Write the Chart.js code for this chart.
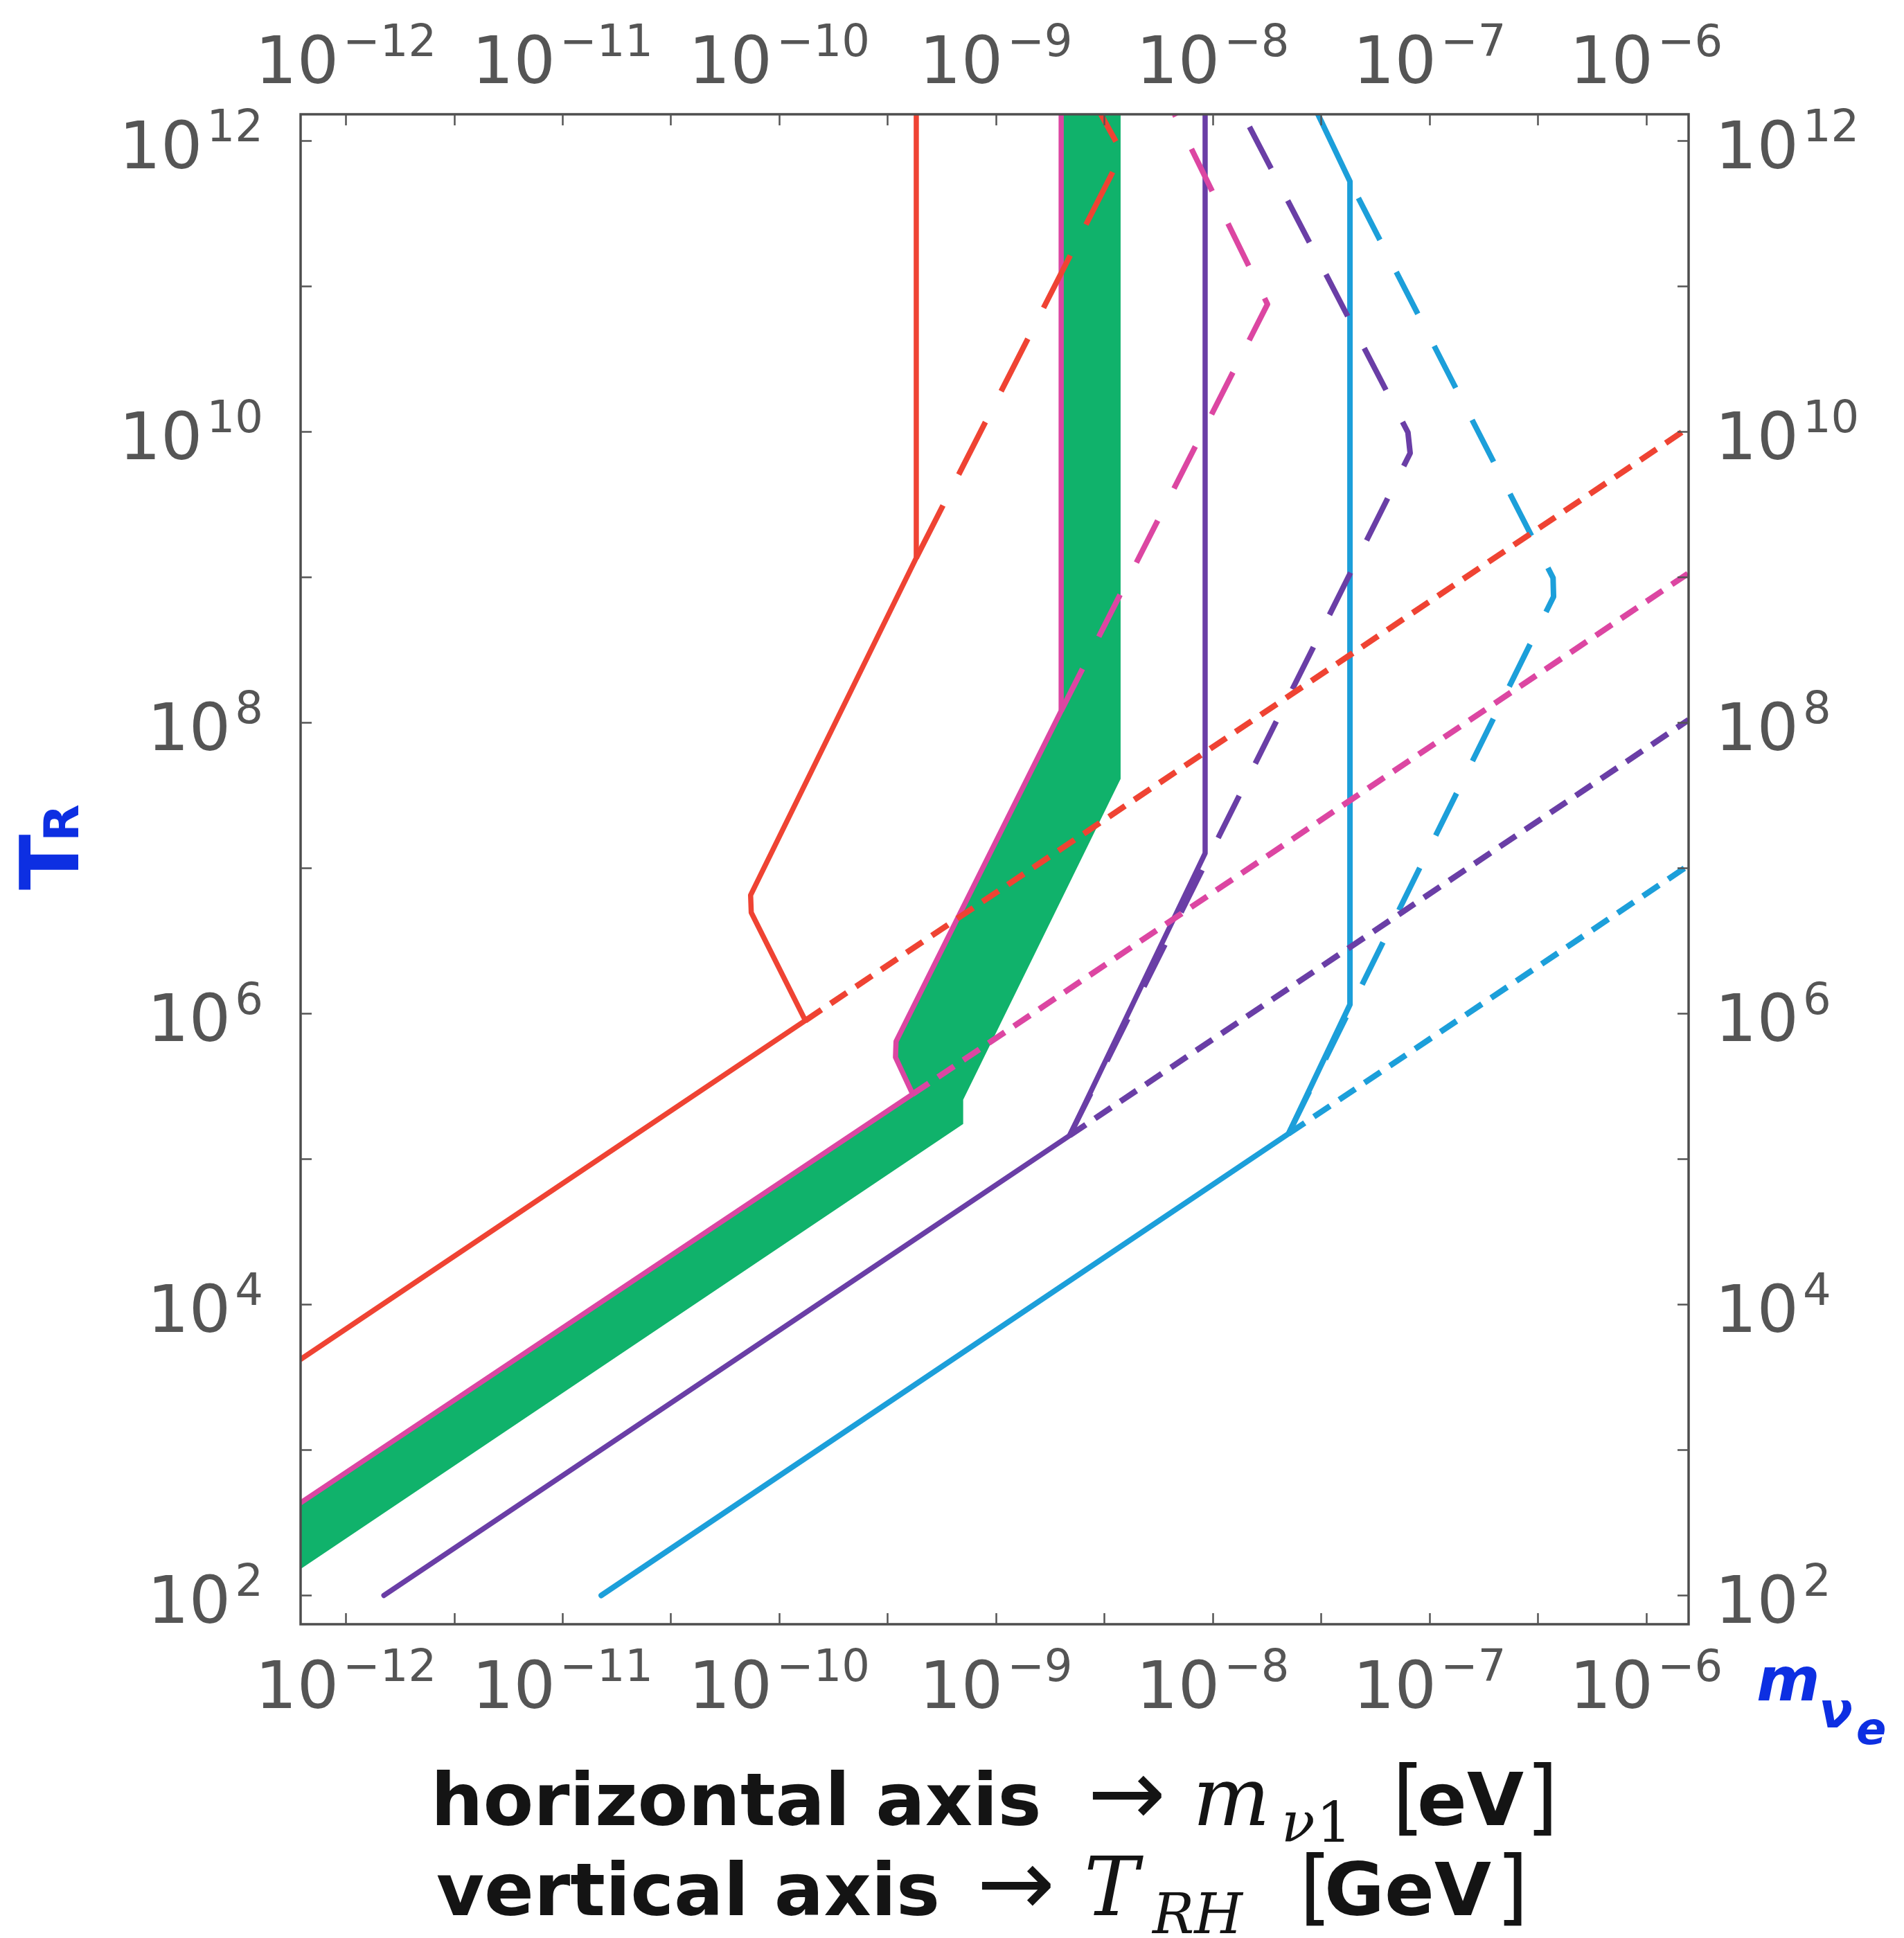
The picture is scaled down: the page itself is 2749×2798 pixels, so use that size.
<!DOCTYPE html>
<html>
<head>
<meta charset="utf-8">
<script src="https://cdn.jsdelivr.net/npm/chart.js@4.4.1/dist/chart.umd.min.js"></script>
<style>
html,body{margin:0;padding:0;background:#ffffff;}
canvas{display:block;}
</style>
</head>
<body>
<canvas id="c" width="2749" height="2798"></canvas>
<script>
// ---- axis ranges (m_nu1 in eV, T_RH in GeV) ----
const xMin = 6.19e-13, xMax = 1.57e-6;
const yMin = 63.4,     yMax = 1.51e12;

// ---- tick marks and labels ----
const xTickMarks  = [1e-12, 3.16e-12, 1e-11, 3.16e-11, 1e-10, 3.16e-10, 1e-9, 3.16e-9, 1e-8, 3.16e-8, 1e-7, 3.16e-7, 1e-6];
const xLabelVals  = [1e-12, 1e-11, 1e-10, 1e-9, 1e-8, 1e-7, 1e-6];
const xLabelExps  = ['\u221212', '\u221211', '\u221210', '\u22129', '\u22128', '\u22127', '\u22126'];
const yTickMarks  = [1e2, 1e3, 1e4, 1e5, 1e6, 1e7, 1e8, 1e9, 1e10, 1e11, 1e12];
const yLabelVals  = [1e2, 1e4, 1e6, 1e8, 1e10, 1e12];
const yLabelExps  = ['2', '4', '6', '8', '10', '12'];

// ---- curves: [m_nu1, T_RH] ----
const redSolid      = [[6.19e-13, 4.19e3], [1.32e-10, 8.93e5], [7.43e-11, 4.93e6], [7.38e-11, 6.49e6], [4.29e-10, 1.35e9], [4.29e-10, 1.51e12]];
const redShort      = [[1.32e-10, 8.93e5], [1.57e-6, 1.06e10]];
const redLong       = [[4.29e-10, 1.35e9], [3.83e-9, 8.17e11], [3.05e-9, 1.51e12]];

const magentaSolid  = [[6.19e-13, 4.33e2], [4.13e-10, 2.79e5], [3.44e-10, 4.99e5], [3.46e-10, 6.41e5], [2.00e-9, 1.20e8], [2.00e-9, 1.51e12]];
const magentaShort  = [[4.13e-10, 2.79e5], [1.57e-6, 1.06e9]];
const magentaLong   = [[2.00e-9, 1.20e8], [1.79e-8, 7.48e10], [6.67e-9, 1.51e12]];

const purpleSolid   = [[1.50e-12, 1e2], [2.19e-9, 1.45e5], [9.23e-9, 1.26e7], [9.23e-9, 1.51e12]];
const purpleShort   = [[2.19e-9, 1.45e5], [1.57e-6, 1.04e8]];
const purpleLong    = [[2.19e-9, 1.45e5], [8.15e-8, 7.08e9], [7.96e-8, 9.84e9], [1.38e-8, 1.51e12]];

const cyanSolid     = [[1.51e-11, 1e2], [2.24e-8, 1.49e5], [4.30e-8, 1.15e6], [4.30e-8, 5.21e11], [3.06e-8, 1.51e12]];
const cyanShort     = [[2.24e-8, 1.49e5], [1.57e-6, 1.04e7]];
const cyanLong      = [[2.24e-8, 1.49e5], [3.74e-7, 7.31e8], [3.72e-7, 9.84e8], [4.30e-8, 5.21e11]];

// green allowed band (closed outline)
const greenBand     = [[6.19e-13, 4.33e2], [4.13e-10, 2.79e5], [3.44e-10, 4.99e5], [3.46e-10, 6.41e5], [2.00e-9, 1.20e8], [2.00e-9, 1.51e12],
                       [3.76e-9, 1.51e12], [3.76e-9, 4.09e7], [7.06e-10, 2.55e5], [7.06e-10, 1.74e5], [6.19e-13, 1.52e2]];

// ---- styles ----
const RED = '#ef4333', MAGENTA = '#dc46a2', PURPLE = '#6a3ea6', CYAN = '#1c9fda', GREEN = '#10b26b';
const SHORT = [28, 16], LONG = [68, 52], LONG_RED = [85, 50];

const toXY = a => a.map(p => ({x: p[0], y: p[1]}));
function lineDs(label, data, color, width, dash) {
  return {
    label, data: toXY(data), showLine: true, borderColor: color, backgroundColor: color,
    borderWidth: width, borderDash: dash, pointRadius: 0, pointHoverRadius: 0, tension: 0,
    fill: false, borderCapStyle: dash.length ? 'butt' : 'round', borderJoinStyle: 'round'
  };
}

const datasets = [
  lineDs('red short', redShort, RED, 8.5, SHORT),
  lineDs('magenta short', magentaShort, MAGENTA, 8.5, SHORT),
  lineDs('purple short', purpleShort, PURPLE, 8.5, SHORT),
  lineDs('cyan short', cyanShort, CYAN, 8.5, SHORT),
  lineDs('red long', redLong, RED, 8, LONG_RED),
  lineDs('magenta long', magentaLong, MAGENTA, 8, LONG),
  lineDs('purple long', purpleLong, PURPLE, 8, LONG),
  lineDs('cyan long', cyanLong, CYAN, 8, LONG),
  lineDs('red', redSolid, RED, 7.5, []),
  lineDs('magenta', magentaSolid, MAGENTA, 7.5, []),
  lineDs('purple', purpleSolid, PURPLE, 7.5, []),
  lineDs('cyan', cyanSolid, CYAN, 8, []),
  {
    label: 'allowed band', data: toXY(greenBand), showLine: true, borderWidth: 0,
    borderColor: GREEN, backgroundColor: GREEN, fill: 'shape', pointRadius: 0, tension: 0
  }
];

const LABEL_COLOR = '#555555';
const BASE_FONT = '95px "DejaVu Sans"';
const SUP_FONT = '64px "DejaVu Sans"';

function drawPow(ctx, exp, x, baseY, align) {
  ctx.font = BASE_FONT; const wb = ctx.measureText('10').width;
  ctx.font = SUP_FONT;  const ws = ctx.measureText(exp).width;
  const gap = 6, total = wb + gap + ws;
  let left = align === 'center' ? x - total / 2 : (align === 'right' ? x - total : x);
  ctx.fillStyle = LABEL_COLOR;
  ctx.font = BASE_FONT; ctx.fillText('10', left, baseY);
  ctx.font = SUP_FONT;  ctx.fillText(exp, left + wb + gap, baseY - 39);
}

const bgPlugin = {
  id: 'bg',
  beforeDraw(chart) {
    const ctx = chart.ctx;
    ctx.save(); ctx.fillStyle = '#ffffff'; ctx.fillRect(0, 0, chart.width, chart.height); ctx.restore();
  }
};

const framePlugin = {
  id: 'frame',
  afterDraw(chart) {
    const ctx = chart.ctx, a = chart.chartArea, xs = chart.scales.x, ys = chart.scales.y;
    ctx.save();
    ctx.textAlign = 'left'; ctx.textBaseline = 'alphabetic';
    // frame
    ctx.strokeStyle = '#4d4d4d'; ctx.lineWidth = 3.5;
    ctx.strokeRect(a.left, a.top, a.right - a.left, a.bottom - a.top);
    // inward ticks
    ctx.lineWidth = 2.5; ctx.strokeStyle = '#555';
    ctx.beginPath();
    xTickMarks.forEach(v => {
      const px = Math.round(xs.getPixelForValue(v)) + 0.5;
      ctx.moveTo(px, a.bottom); ctx.lineTo(px, a.bottom - 16);
      ctx.moveTo(px, a.top);    ctx.lineTo(px, a.top + 16);
    });
    yTickMarks.forEach(v => {
      const py = Math.round(ys.getPixelForValue(v)) + 0.5;
      ctx.moveTo(a.left, py);  ctx.lineTo(a.left + 16, py);
      ctx.moveTo(a.right, py); ctx.lineTo(a.right - 16, py);
    });
    ctx.stroke();
    // tick labels
    xLabelVals.forEach((v, i) => {
      const px = xs.getPixelForValue(v);
      drawPow(ctx, xLabelExps[i], px, 2466, 'center');
      drawPow(ctx, xLabelExps[i], px, 120, 'center');
    });
    yLabelVals.forEach((v, i) => {
      const py = ys.getPixelForValue(v);
      drawPow(ctx, yLabelExps[i], 380, py + 40, 'right');
      drawPow(ctx, yLabelExps[i], 2476, py + 40, 'left');
    });

    // axis description (two lines)
    const TXT = '#141414';
    const SANS_B = 'bold 106px "DejaVu Sans"';
    const ARROW = '135px "DejaVu Sans"';
    const BR = '120px "DejaVu Sans"';
    const MI = 'italic 118px "DejaVu Serif"';
    const SUBI = 'italic 80px "DejaVu Serif"';
    const SUBR = '80px "DejaVu Serif"';
    ctx.fillStyle = TXT;
    const put = (t, f, x, y) => { ctx.font = f; ctx.fillText(t, x, y); return x + ctx.measureText(t).width; };
    let b1 = 2635;
    put('horizontal axis', SANS_B, 622, b1);
    put('\u2192', ARROW, 1570, b1);
    put('m', MI, 1722, b1);
    let nx = put('\u03bd', SUBI, 1850, b1 + 24);
    put('1', SUBR, nx + 2, b1 + 24);
    put('[', BR, 2010, b1);
    put('eV', SANS_B, 2046, b1);
    put(']', BR, 2203, b1);

    let b2 = 2765;
    put('vertical axis', SANS_B, 630, b2);
    put('\u2192', ARROW, 1410, b2);
    put('T', MI, 1565, b2);
    put('RH', SUBI, 1664, b2 + 26);
    put('[', BR, 1876, b2);
    put('GeV', SANS_B, 1912, b2);
    put(']', BR, 2160, b2);

    // blue handwritten annotations
    const BLUE = '#0d2fe2';
    ctx.fillStyle = BLUE;
    ctx.save();
    ctx.translate(113, 1285);
    ctx.rotate(-Math.PI / 2);
    ctx.font = 'bold 118px "DejaVu Sans"';
    ctx.fillText('T', 0, 0);
    ctx.font = 'bold 70px "DejaVu Sans"';
    ctx.fillText('R', 70, 0);
    ctx.restore();

    ctx.font = 'bold oblique 88px "DejaVu Sans"';
    ctx.fillText('m', 2536, 2455);
    ctx.font = 'bold oblique 72px "DejaVu Sans"';
    ctx.fillText('\u03bd', 2626, 2494);
    ctx.font = 'bold oblique 64px "DejaVu Sans"';
    ctx.fillText('e', 2680, 2518);
    ctx.restore();
  }
};

new Chart(document.getElementById('c'), {
  type: 'scatter',
  data: { datasets },
  options: {
    responsive: false, animation: false, devicePixelRatio: 1,
    layout: { padding: { left: 434, right: 311, top: 165, bottom: 453 } },
    plugins: { legend: { display: false }, title: { display: false }, tooltip: { enabled: false } },
    events: [],
    scales: {
      x: { type: 'logarithmic', min: xMin, max: xMax, bounds: 'data', display: false },
      y: { type: 'logarithmic', min: yMin, max: yMax, bounds: 'data', display: false }
    }
  },
  plugins: [bgPlugin, framePlugin]
});
</script>
</body>
</html>
